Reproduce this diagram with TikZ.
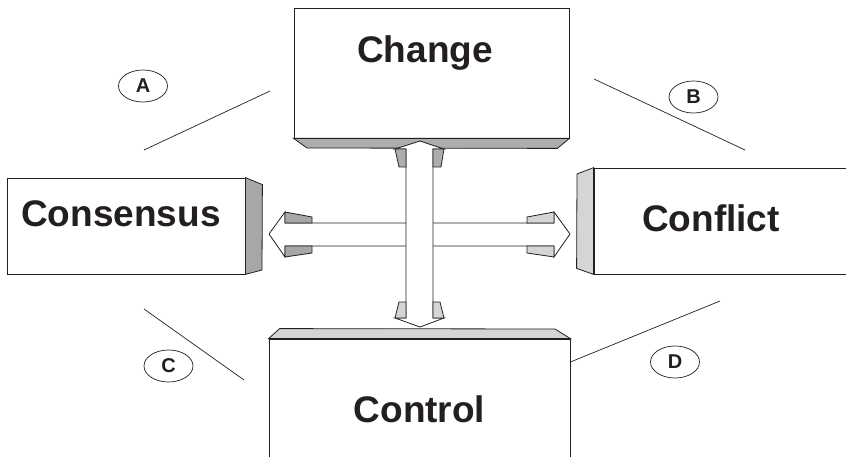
\documentclass[tikz,border=0pt]{standalone}
\usepackage{fontspec}
\setmainfont{Liberation Sans}
\definecolor{mInk}{HTML}{231F20}
\definecolor{mDarkSide}{HTML}{A7A7A9}
\definecolor{mMidSide}{HTML}{ADADAF}
\definecolor{mLightSide}{HTML}{D5D5D6}
\usepackage{tikz}
\usetikzlibrary{positioning,shapes.geometric}
\tikzset{
 face/.style={draw=mInk, fill=white, line width=0.8pt, inner sep=0pt},
 darkside/.style={draw=mInk, fill=mDarkSide, line width=0.8pt},
 midside/.style={draw=mInk, fill=mMidSide, line width=0.8pt},
 lightside/.style={draw=mInk, fill=mLightSide, line width=0.8pt},
 title/.style={anchor=base, text=mInk, font=\fontsize{37}{44}\selectfont\bfseries},
 tag/.style={draw=mInk, ellipse, line width=0.7pt, minimum width=49pt, minimum height=32pt, inner sep=0pt, text=mInk, font=\fontsize{20}{22}\selectfont\bfseries},
 rule/.style={draw=mInk, line width=0.7pt}
}
\newcommand{\lbltag}[3]{\node[tag] (#1) at (#2) {#3};}

\begin{document}
\begin{tikzpicture}[x=1pt,y=-1pt]
\clip (0,0) rectangle (846,457);
% the four boxes
\node[face, minimum width=275pt, minimum height=130pt] (change) at (431.5,73) {};
\node[face, minimum width=238pt, minimum height=96pt] (consensus) at (126,226) {};
\node[face, minimum width=266pt, minimum height=106pt] (conflict) at (727,221) {};
\node[face, minimum width=301pt, minimum height=140pt] (control) at (419.5,409) {};
% side faces
\draw[midside] (change.south west) -- (change.south east) -- ++(-12,10) -- (307,148) -- cycle;
\draw[darkside] (consensus.north east) -- ++(17,7) -- (262,270) -- (consensus.south east) -- cycle;
\draw[lightside] (conflict.north west) -- (conflict.south west) -- ++(-17,-6) -- (577,174) -- cycle;
\draw[lightside] (control.north west) -- ++(11,-10) -- (555,329) -- (control.north east) -- cycle;
% texts
\node[title] (changetxt) at (425,63) {Change};
\node[title] (consensustxt) at (121,227) {Consensus};
\node[title] (conflicttxt) at (711,232) {Conflict};
\node[title] (controltxt) at (419.5,422) {Control};
% horizontal arrow
\draw[face] (269,234) -- (285,212) -- (285,223) -- (554,223) -- (554,212) -- (570,234)
 -- (554,257) -- (554,246) -- (285,246) -- (285,257) -- cycle;
\draw[darkside] (285,212) -- (312,217) -- (312,223) -- (285,223) -- cycle;
\draw[darkside] (285,246) -- (312,246) -- (312,253) -- (285,257) -- cycle;
\draw[lightside] (527,217) -- (554,212) -- (554,223) -- (527,223) -- cycle;
\draw[lightside] (527,246) -- (554,246) -- (554,257) -- (527,253) -- cycle;
% vertical arrow
\draw[face] (420,141) -- (444,149) -- (433,149) -- (433,318) -- (444,318) -- (420,327)
 -- (395,318) -- (406,318) -- (406,149) -- (395,149) -- cycle;
\draw[midside] (395,149) -- (406,149) -- (406,167) -- (399,167) -- cycle;
\draw[midside] (433,149) -- (444,149) -- (441,167) -- (433,167) -- cycle;
\draw[lightside] (399,302) -- (406,302) -- (406,318) -- (395,318) -- cycle;
\draw[lightside] (433,302) -- (440,302) -- (444,318) -- (433,318) -- cycle;
% tags and their rules
\lbltag{tagA}{143,86}{A}
\lbltag{tagB}{693.5,97}{B}
\lbltag{tagC}{168.5,366}{C}
\lbltag{tagD}{675,362}{D}
\draw[rule] (144,150) -- (270,91);
\draw[rule] (594,79) -- (745,150);
\draw[rule] (144,309) -- (244,380);
\draw[rule] (control.east |- 0,362) -- (720,301);
\end{tikzpicture}
\end{document}
